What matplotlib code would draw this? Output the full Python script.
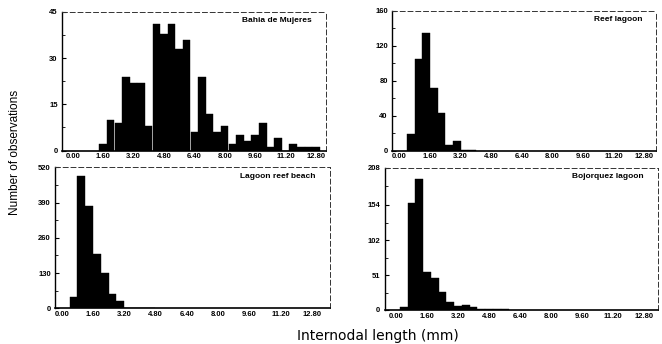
import matplotlib
matplotlib.use("Agg")
import matplotlib.pyplot as plt
from matplotlib import font_manager
from matplotlib.ticker import FormatStrFormatter, FixedLocator
import numpy as np

# Histograms of internodal length (mm), bin width 0.4 mm
bin_width = 0.4

bahia_start = 1.4
bahia_counts = [2, 10, 9, 24, 22, 22, 8, 41, 38, 41, 33, 36, 6, 24, 12, 6, 8,
                2, 5, 3, 5, 9, 1, 4, 0, 2, 1, 1, 1]

reef_start = 0.4
reef_counts = [19, 105, 135, 72, 43, 7, 11, 1, 1]

beach_start = 0.4
beach_counts = [40, 488, 377, 199, 129, 52, 28, 2, 2, 1, 1]

bojorquez_start = 0.2
bojorquez_counts = [4, 157, 192, 56, 47, 27, 11, 6, 7, 4, 2, 1, 1, 1]

x_ticks = [0.0, 1.6, 3.2, 4.8, 6.4, 8.0, 9.6, 11.2, 12.8]

panels = [
    # title, start, counts, yticks, ymax, rect px (L, R, T, B), x0 px, px/mm
    ("Bahia de Mujeres", bahia_start, bahia_counts, [0, 15, 30, 45], 45,
     (62, 326, 12, 150.5), 72.7, 19.0),
    ("Reef lagoon", reef_start, reef_counts, [0, 40, 80, 120, 160], 160,
     (392, 656, 10.7, 150.7), 399.3, 19.14),
    ("Lagoon reef beach", beach_start, beach_counts, [0, 130, 260, 390, 520], 520,
     (55, 330, 167.3, 308.3), 61.7, 19.53),
    ("Bojorquez lagoon", bojorquez_start, bojorquez_counts, [0, 51, 102, 154, 208], 208,
     (384.5, 657.5, 168, 310), 396.0, 19.4),
]

W, H = 662, 344


def has_font(name):
    try:
        font_manager.findfont(name, fallback_to_default=False)
        return True
    except Exception:
        return False


narrow = "Liberation Sans Narrow" if has_font("Liberation Sans Narrow") else "Liberation Sans"

fig = plt.figure(figsize=(W / 100, H / 100), dpi=100)
fig.patch.set_facecolor("white")

tick_font = dict(family="Liberation Sans", size=5.5, weight="bold")

for title, start, counts, yticks, ymax, (L, R, T, B), x0, ppm in panels:
    ax = fig.add_axes([L / W, 1 - B / H, (R - L) / W, (B - T) / H])
    counts = np.asarray(counts, dtype=float)
    lefts = start + bin_width * np.arange(len(counts))
    ax.bar(lefts, counts, width=bin_width, align="edge", color="black",
           edgecolor="black", linewidth=0.3)
    ax.set_xlim((L - x0) / ppm, (R - x0) / ppm)
    ax.set_ylim(0, ymax)

    ax.set_xticks(x_ticks)
    ax.xaxis.set_major_formatter(FormatStrFormatter("%.2f"))
    ax.set_yticks(yticks)
    minor = [(a + b) / 2 for a, b in zip(yticks[:-1], yticks[1:])]
    ax.yaxis.set_minor_locator(FixedLocator(minor))

    ax.tick_params(axis="x", length=0, pad=2)
    ax.tick_params(axis="y", which="major", direction="in", length=3,
                   width=0.8, pad=3)
    ax.tick_params(axis="y", which="minor", direction="in", length=2, width=0.6)
    for lab in ax.get_xticklabels() + ax.get_yticklabels():
        lab.set_fontfamily(tick_font["family"])
        lab.set_fontsize(tick_font["size"])
        lab.set_fontweight(tick_font["weight"])

    ax.spines["left"].set_linewidth(1.0)
    ax.spines["bottom"].set_linewidth(1.2)
    for side in ("top", "right"):
        ax.spines[side].set_linewidth(0.7)
        ax.spines[side].set_linestyle((0, (5, 3)))
        ax.spines[side].set_color("#333333")

    ax.text(1 - 14 / (R - L), 1 - 9 / (B - T), title, transform=ax.transAxes,
            ha="right", va="center", family="Liberation Sans", fontsize=6,
            fontweight="bold")

fig.text(15 / W, 1 - 152 / H, "Number of observations", rotation=90,
         ha="center", va="center", family=narrow, fontsize=8.5)
fig.text(378 / W, 1 - 336 / H, "Internodal length (mm)", ha="center",
         va="center", family="DejaVu Sans", fontsize=10)

fig.savefig("out.png", dpi=100, facecolor="white")
